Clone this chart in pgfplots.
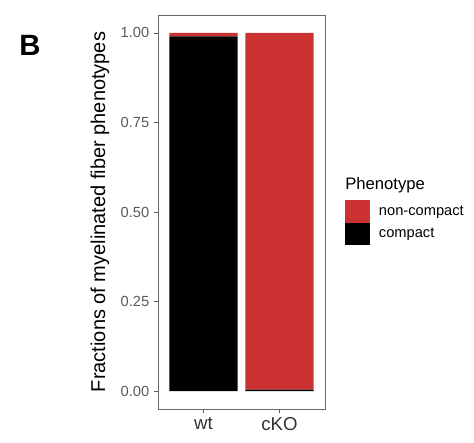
\documentclass[border=0pt]{standalone}
\usepackage{pgfplots}
\pgfplotsset{compat=1.18}
\usepackage{fontspec}
\setmainfont{Liberation Sans}
\definecolor{noncompact}{RGB}{205,50,50}
\definecolor{tickgray}{RGB}{90,90,90}

\begin{document}
\begin{tikzpicture}
% overall canvas
\path[use as bounding box] (0,0) rectangle (355.5pt,331.5pt);
\node[font=\fontsize{22}{24}\selectfont\bfseries] at (22.5pt,297.75pt) {B};
\begin{axis}[
  at={(118.5pt,24.75pt)}, anchor=south west,
  scale only axis, width=125.25pt, height=295.5pt,
  ybar stacked, bar width=0.9,
  xmin=0.4, xmax=2.6, ymin=-0.05, ymax=1.05,
  xtick={1,2}, xticklabels={wt,cKO},
  ytick={0,0.25,0.5,0.75,1},
  yticklabels={0.00,0.25,0.50,0.75,1.00},
  tick align=outside, major tick length=3pt,
  xtick pos=bottom, ytick pos=left,
  tick style={tickgray, line width=0.5pt},
  axis line style={black!60, line width=0.6pt},
  yticklabel style={font=\fontsize{11}{13}\selectfont, text=tickgray},
  xticklabel style={font=\fontsize{14}{16}\selectfont, text=black!80},
  ylabel={Fractions of myelinated fiber phenotypes},
  every axis y label/.style={at={(axis description cs:-0.347,0.5)}, rotate=90, anchor=center, font=\fontsize{15}{17}\selectfont},
  reverse legend,
  legend style={at={(1.12,0.5305)}, anchor=north west, draw=none, fill=none,
    inner sep=0pt, row sep=0pt, column sep=4.5pt,
    font=\fontsize{11}{13}\selectfont},
  legend cell align=left,
  clip=false,
]
\addplot[fill=black, draw=none,
  legend image code/.code={\fill[black] (0pt,-8.4pt) rectangle (18.75pt,8.4pt);}]
  coordinates {(1,0.99) (2,0.004)};
\addlegendentry{compact}
\addplot[fill=noncompact, draw=none,
  legend image code/.code={\fill[noncompact] (0pt,-8.4pt) rectangle (18.75pt,8.4pt);}]
  coordinates {(1,0.01) (2,0.996)};
\addlegendentry{non-compact}
\end{axis}
\node[anchor=west, font=\fontsize{12.5}{14}\selectfont, inner sep=0pt] at (258.75pt,192.75pt) {Phenotype};
\end{tikzpicture}
\end{document}
